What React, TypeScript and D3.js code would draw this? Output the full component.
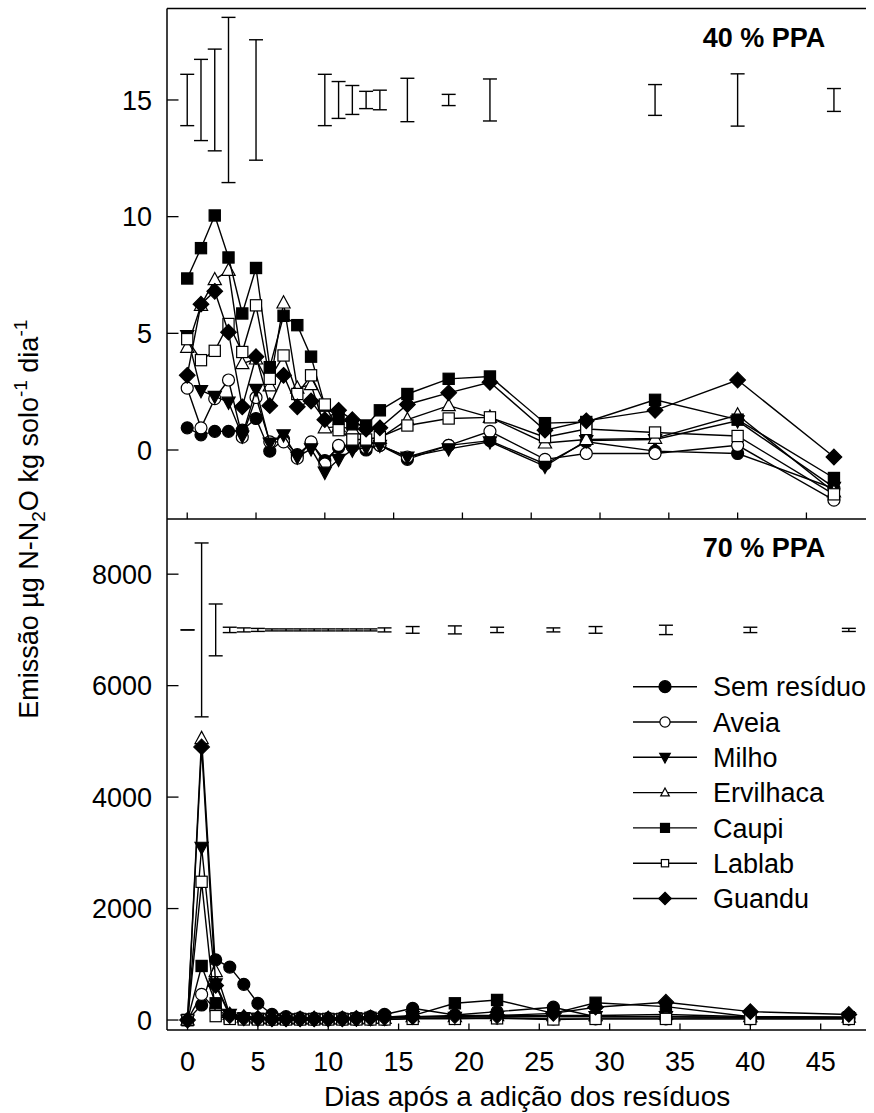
import React from "react";
import * as d3 from "d3";

const days = [0, 1, 2, 3, 4, 5, 6, 7, 8, 9, 10, 11, 12, 13, 14, 16, 19, 22, 26, 29, 34, 40, 47];
const seriesNames = ["Sem resíduo", "Aveia", "Milho", "Ervilhaca", "Caupi", "Lablab", "Guandu"];

// 40 % PPA (µg N-N2O kg solo-1 dia-1)
const sem40 = [0.95, 0.65, 0.8, 0.8, 0.85, 1.35, -0.05, 0.45, -0.2, 0.3, -0.45, 0.1, 0.15, 0.0, 0.2, -0.4, 0.2, 0.4, -0.6, 0.35, -0.05, -0.15, -1.65];
const aveia40 = [2.65, 0.95, 2.2, 3.0, 0.55, 2.25, 0.35, 0.35, -0.35, 0.35, -0.6, 0.2, 0.15, 0.1, 0.2, -0.3, 0.2, 0.8, -0.4, -0.15, -0.15, 0.2, -2.15];
const milho40 = [4.9, 2.55, 2.3, 2.05, 0.6, 2.6, 0.3, 0.65, -0.3, 0.05, -0.95, -0.4, 0.0, 0.1, 0.2, -0.3, 0.05, 0.35, -0.7, 0.4, 0.45, 1.25, -1.6];
const ervilhaca40 = [4.4, 6.2, 7.3, 7.7, 3.7, 3.9, 2.75, 6.3, 2.65, 2.8, 0.95, 1.0, 0.9, 0.5, 0.5, 1.3, 1.9, 1.4, 0.3, 0.45, 0.5, 1.5, -1.8];
const caupi40 = [7.35, 8.65, 10.05, 8.25, 5.85, 7.8, 3.55, 5.75, 5.35, 4.0, 1.9, 1.35, 1.1, 1.05, 1.7, 2.4, 3.05, 3.15, 1.15, 1.2, 2.15, 1.3, -1.2];
const lablab40 = [4.75, 3.85, 4.25, 5.4, 4.2, 6.2, 3.05, 4.05, 2.4, 3.2, 1.95, 0.85, 0.45, 0.45, 0.55, 1.05, 1.35, 1.4, 0.55, 0.9, 0.75, 0.6, -1.9];
const guandu40 = [3.2, 6.25, 6.8, 5.05, 1.85, 4.0, 1.9, 3.2, 1.85, 2.1, 1.3, 1.7, 1.3, 0.9, 0.95, 1.95, 2.45, 2.9, 0.85, 1.25, 1.7, 3.0, -0.3];

// 70 % PPA
const sem70 = [0, 270, 1080, 950, 640, 300, 100, 60, 40, 30, 30, 40, 40, 60, 100, 210, 90, 150, 230, 60, 60, 40, 40];
const aveia70 = [0, 460, 190, 60, 30, 20, 10, 10, 10, 10, 10, 10, 10, 10, 10, 30, 30, 40, 20, 20, 20, 20, 20];
const milho70 = [0, 3100, 650, 100, 40, 30, 20, 20, 20, 20, 20, 20, 20, 30, 30, 60, 50, 60, 60, 60, 60, 50, 40];
const ervilhaca70 = [0, 5050, 870, 100, 50, 30, 20, 20, 20, 20, 20, 20, 20, 30, 30, 60, 60, 80, 80, 80, 100, 60, 50];
const caupi70 = [0, 970, 300, 50, 30, 20, 20, 20, 20, 20, 20, 20, 30, 40, 50, 80, 300, 360, 120, 310, 240, 60, 50];
const lablab70 = [0, 2480, 70, 20, 10, 10, 10, 10, 10, 10, 10, 10, 10, 10, 10, 20, 20, 30, 10, 20, 20, 20, 20];
const guandu70 = [0, 4900, 620, 80, 40, 30, 20, 20, 20, 20, 20, 20, 30, 40, 50, 60, 80, 80, 120, 230, 320, 150, 100];

// error bars (centre and half-widths)
const err40Center = 15;
const err40Days = [0, 1, 2, 3, 5, 10, 11, 12, 13, 14, 16, 19, 22, 34, 40, 47];
const err40Half = [1.1, 1.74, 2.18, 3.54, 2.58, 1.1, 0.79, 0.62, 0.37, 0.42, 0.93, 0.24, 0.9, 0.66, 1.12, 0.49];
const err70Center = 7000;
const err70Half = [0, 1560, 465, 48, 36, 27, 18, 18, 18, 18, 18, 18, 18, 18, 36, 60, 72, 48, 36, 60, 84, 48, 28];

const xTicks = [0, 5, 10, 15, 20, 25, 30, 35, 40, 45];
const yTicks40 = [0, 5, 10, 15];
const yTicks70 = [0, 2000, 4000, 6000, 8000];

const W = 874;
const H = 1113;
const left = 167;
const right = 866;
const top = 8.5;
const mid = 519;
const bottom = 1030;
const FONT = "'Liberation Sans', Arial, sans-serif";

const xTop = d3.scaleLinear().domain([-1.47, 49.33]).range([left, right]);
const xBot = d3.scaleLinear().domain([-1.46, 48.22]).range([left, right]);
const yTop = d3.scaleLinear().domain([-2.957, 18.92]).range([mid, top]);
const yBot = d3.scaleLinear().domain([-179, 8990]).range([bottom, mid]);

type Shape = "circle" | "tridown" | "triup" | "square" | "diamond";
const styles: { shape: Shape; filled: boolean }[] = [
  { shape: "circle", filled: true },
  { shape: "circle", filled: false },
  { shape: "tridown", filled: true },
  { shape: "triup", filled: false },
  { shape: "square", filled: true },
  { shape: "square", filled: false },
  { shape: "diamond", filled: true },
];

function Marker({ x, y, shape, filled, s = 1 }: { x: number; y: number; shape: Shape; filled: boolean; s?: number }) {
  const fill = filled ? "#000" : "#fff";
  const common = { fill, stroke: "#000", strokeWidth: 1.2 };
  if (shape === "circle") return <circle cx={x} cy={y} r={6 * s} {...common} />;
  if (shape === "square")
    return <rect x={x - 5.6 * s} y={y - 5.6 * s} width={11.2 * s} height={11.2 * s} {...common} />;
  if (shape === "triup")
    return <path d={`M${x},${y - 7.2 * s}L${x + 6.6 * s},${y + 5 * s}L${x - 6.6 * s},${y + 5 * s}Z`} {...common} />;
  if (shape === "tridown")
    return <path d={`M${x},${y + 7.2 * s}L${x + 6.6 * s},${y - 5 * s}L${x - 6.6 * s},${y - 5 * s}Z`} {...common} />;
  return <path d={`M${x},${y - 7.8 * s}L${x + 7.8 * s},${y}L${x},${y + 7.8 * s}L${x - 7.8 * s},${y}Z`} {...common} />;
}

function Panel({ data, x, y }: { data: number[][]; x: d3.ScaleLinear<number, number>; y: d3.ScaleLinear<number, number> }) {
  return (
    <g>
      {data.map((vals, si) => {
        const line = d3
          .line<number>()
          .x((_, i) => x(days[i]))
          .y((v) => y(v));
        return (
          <g key={si}>
            <path d={line(vals) || ""} fill="none" stroke="#000" strokeWidth={1.4} />
            {vals.map((v, i) => (
              <Marker key={i} x={x(days[i])} y={y(v)} shape={styles[si].shape} filled={styles[si].filled} />
            ))}
          </g>
        );
      })}
    </g>
  );
}

function ErrorBar({ cx, y1, y2 }: { cx: number; y1: number; y2: number }) {
  return (
    <g stroke="#000" strokeWidth={1.4}>
      <line x1={cx} x2={cx} y1={y1} y2={y2} />
      <line x1={cx - 7} x2={cx + 7} y1={y1} y2={y1} />
      <line x1={cx - 7} x2={cx + 7} y1={y2} y2={y2} />
    </g>
  );
}

export default function App() {
  const data40 = [sem40, aveia40, milho40, ervilhaca40, caupi40, lablab40, guandu40];
  const data70 = [sem70, aveia70, milho70, ervilhaca70, caupi70, lablab70, guandu70];
  const legendY0 = 686.7;
  const legendDy = 35.3;
  const legendScale = [1, 0.85, 0.8, 0.65, 0.8, 0.65, 0.8];
  return (
    <svg width={W} height={H} style={{ position: "absolute", left: 0, top: 0 }} fontFamily={FONT}>
      <rect width={W} height={H} fill="#fff" />
      {/* frame lines */}
      <g stroke="#000" strokeWidth={1.5}>
        <line x1={left} x2={left} y1={top} y2={bottom} />
        <line x1={left} x2={right} y1={top} y2={top} />
        <line x1={left} x2={right} y1={mid} y2={mid} />
        <line x1={left} x2={right} y1={bottom} y2={bottom} />
      </g>
      {/* ticks */}
      <g stroke="#000" strokeWidth={1.3}>
        {xTicks.map((t) => (
          <line key={"xt" + t} x1={xTop(t)} x2={xTop(t)} y1={mid} y2={mid - 6.5} />
        ))}
        {xTicks.map((t) => (
          <line key={"xb" + t} x1={xBot(t)} x2={xBot(t)} y1={bottom} y2={bottom - 6.5} />
        ))}
        {yTicks40.map((t) => (
          <line key={"y4" + t} x1={left} x2={left + 11.5} y1={yTop(t)} y2={yTop(t)} />
        ))}
        {yTicks70.map((t) => (
          <line key={"y7" + t} x1={left} x2={left + 11.5} y1={yBot(t)} y2={yBot(t)} />
        ))}
      </g>
      {/* tick labels */}
      <g fontSize={27} fill="#000">
        {yTicks40.map((t) => (
          <text key={"l4" + t} x={152} y={yTop(t)} dy="0.36em" textAnchor="end">
            {t}
          </text>
        ))}
        {yTicks70.map((t) => (
          <text key={"l7" + t} x={152} y={yBot(t)} dy="0.36em" textAnchor="end">
            {t}
          </text>
        ))}
        {xTicks.map((t) => (
          <text key={"lx" + t} x={xBot(t)} y={1071} textAnchor="middle">
            {t}
          </text>
        ))}
      </g>
      <text x={(xBot(0) + xBot(45)) / 2 + 23} y={1106} fontSize={28} textAnchor="middle">
        Dias após a adição dos resíduos
      </text>
      <text transform={`translate(38,${(top + bottom) / 2}) rotate(-90)`} fontSize={27} textAnchor="middle">
        Emissão µg N-N
        <tspan fontSize={19} dy={7}>2</tspan>
        <tspan dy={-7}>O kg solo</tspan>
        <tspan fontSize={19} dy={-11}>-1</tspan>
        <tspan dy={11}> dia</tspan>
        <tspan fontSize={19} dy={-11}>-1</tspan>
      </text>
      <text x={764} y={47} fontSize={27} fontWeight="bold" textAnchor="middle">
        40 % PPA
      </text>
      <text x={764} y={557} fontSize={27} fontWeight="bold" textAnchor="middle">
        70 % PPA
      </text>
      {/* error bars */}
      {err40Days.map((d, i) => (
        <ErrorBar key={"e4" + i} cx={xTop(d)} y1={yTop(err40Center + err40Half[i])} y2={yTop(err40Center - err40Half[i])} />
      ))}
      {days.map((d, i) => (
        <ErrorBar key={"e7" + i} cx={xBot(d)} y1={yBot(err70Center + err70Half[i])} y2={yBot(err70Center - err70Half[i])} />
      ))}
      <Panel data={data40} x={xTop} y={yTop} />
      <Panel data={data70} x={xBot} y={yBot} />
      {/* legend */}
      {seriesNames.map((name, i) => {
        const ly = legendY0 + i * legendDy;
        return (
          <g key={"lg" + i}>
            <line x1={633} x2={697} y1={ly} y2={ly} stroke="#000" strokeWidth={1.4} />
            <Marker x={665} y={ly} shape={styles[i].shape} filled={styles[i].filled} s={legendScale[i]} />
            <text x={713} y={ly} dy="0.36em" fontSize={27}>
              {name}
            </text>
          </g>
        );
      })}
    </svg>
  );
}
